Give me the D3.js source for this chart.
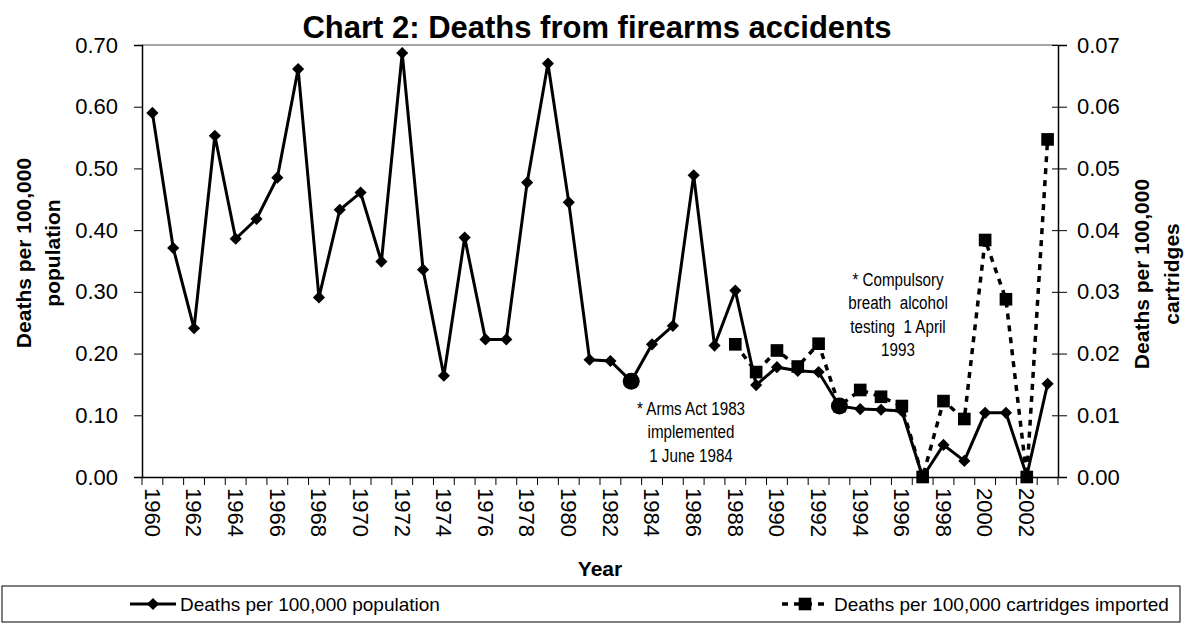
<!DOCTYPE html>
<html>
<head>
<meta charset="utf-8">
<script src="https://cdn.jsdelivr.net/npm/d3@7"></script>
<style>
  body { margin: 0; background: #fff; }
  svg { display: block; font-family: "Liberation Sans", Arial, sans-serif; }
  .note { font-family: "Liberation Sans", Arial, sans-serif; font-size: 19px; }
</style>
</head>
<body>
<svg id="chart" width="1184" height="623"></svg>
<script>
var years = [1960, 1961, 1962, 1963, 1964, 1965, 1966, 1967, 1968, 1969,
             1970, 1971, 1972, 1973, 1974, 1975, 1976, 1977, 1978, 1979,
             1980, 1981, 1982, 1983, 1984, 1985, 1986, 1987, 1988, 1989,
             1990, 1991, 1992, 1993, 1994, 1995, 1996, 1997, 1998, 1999,
             2000, 2001, 2002, 2003];

// deaths per 100,000 population (left axis)
var popDeaths = [0.590, 0.371, 0.241, 0.553, 0.386, 0.418, 0.485, 0.661, 0.291, 0.433,
                 0.461, 0.349, 0.687, 0.336, 0.164, 0.388, 0.223, 0.223, 0.477, 0.670,
                 0.445, 0.190, 0.188, 0.155, 0.215, 0.245, 0.489, 0.213, 0.302, 0.149,
                 0.178, 0.172, 0.170, 0.115, 0.110, 0.109, 0.107, 0.000, 0.052, 0.026,
                 0.104, 0.104, 0.002, 0.151];

// deaths per 100,000 cartridges imported (right axis)
var cartYears = [1988, 1989, 1990, 1991, 1992, 1993, 1994, 1995, 1996, 1997,
                 1998, 1999, 2000, 2001, 2002, 2003];
var cartDeaths = [0.0215, 0.0170, 0.0205, 0.0179, 0.0216, 0.0115, 0.0141, 0.0130, 0.0115, 0.0000,
                  0.0123, 0.0094, 0.0384, 0.0288, 0.0000, 0.0547];

var leftTicks = [0, 0.1, 0.2, 0.3, 0.4, 0.5, 0.6, 0.7];
var rightTicks = [0, 0.01, 0.02, 0.03, 0.04, 0.05, 0.06, 0.07];
var labelYears = [1960, 1962, 1964, 1966, 1968, 1970, 1972, 1974, 1976, 1978, 1980,
                  1982, 1984, 1986, 1988, 1990, 1992, 1994, 1996, 1998, 2000, 2002];

var eventYears = [1983, 1993];
var eventValues = [0.155, 0.115];
var eventNotes = [["* Arms Act 1983", "implemented", "1 June 1984"],
                  ["* Compulsory", "breath  alcohol", "testing  1 April", "1993"]];

var svg = d3.select("#chart");
var plotLeft = 142, plotRight = 1058, plotTop = 45, plotBottom = 477;

var x = d3.scaleBand().domain(years).range([plotLeft, plotRight]).padding(0);
var cx = function(yr) { return x(yr) + x.bandwidth() / 2; };
var y = d3.scaleLinear().domain([0, 0.7]).range([plotBottom, plotTop]);
var y2 = d3.scaleLinear().domain([0, 0.07]).range([plotBottom, plotTop]);

// title
svg.append("text")
    .attr("x", 597).attr("y", 38)
    .attr("text-anchor", "middle")
    .style("font-size", "31px").style("font-weight", "bold")
    .text("Chart 2: Deaths from firearms accidents");

// top border of plot area
svg.append("line")
    .attr("x1", plotLeft).attr("x2", plotRight).attr("y1", plotTop).attr("y2", plotTop)
    .attr("stroke", "#888").attr("stroke-width", 1.5);

// left axis
var gl = svg.append("g")
    .attr("transform", "translate(" + plotLeft + ",0)")
    .call(d3.axisLeft(y).tickValues(leftTicks).tickFormat(d3.format(".2f")).tickSize(8).tickPadding(16));

// right axis
var gr = svg.append("g")
    .attr("transform", "translate(" + plotRight + ",0)")
    .call(d3.axisRight(y2).tickValues(rightTicks).tickFormat(d3.format(".2f")).tickSize(9).tickPadding(10));
gr.selectAll(".tick line").attr("x1", -6);

// bottom axis
var gb = svg.append("g")
    .attr("transform", "translate(0," + plotBottom + ")")
    .call(d3.axisBottom(x).tickValues(labelYears).tickSize(0).tickPadding(0));
gb.selectAll(".tick text")
    .attr("transform", "rotate(90)")
    .attr("x", 11).attr("y", 0).attr("dy", "0.35em")
    .style("text-anchor", "start");
gb.selectAll(".tick-mark")
    .data(years.concat(["end"]))
  .enter().append("line")
    .attr("x1", function(d) { return d === "end" ? plotRight : x(d); })
    .attr("x2", function(d) { return d === "end" ? plotRight : x(d); })
    .attr("y1", 0).attr("y2", 8)
    .attr("stroke", "#000");

svg.selectAll(".domain").attr("stroke", "#000").attr("stroke-width", 1.5);
svg.selectAll(".tick line").attr("stroke", "#000");
svg.selectAll(".tick text").style("font-size", "22px").style("font-family", "'Liberation Sans', Arial, sans-serif").attr("fill", "#000");

// axis titles
function axisTitle(tx, ty, rot, s) {
  svg.append("text")
      .attr("transform", "translate(" + tx + "," + ty + ")" + (rot ? " rotate(-90)" : ""))
      .attr("text-anchor", "middle")
      .style("font-size", "21px").style("font-weight", "bold")
      .text(s);
}
axisTitle(31, 253, true, "Deaths per 100,000");
axisTitle(60, 253, true, "population");
axisTitle(1149, 274, true, "Deaths per 100,000");
axisTitle(1179, 274, true, "cartridges");
axisTitle(600, 576, false, "Year");

// population series
var popLine = d3.line()
    .x(function(d, i) { return cx(years[i]); })
    .y(function(d) { return y(d); });

svg.append("path")
    .datum(popDeaths)
    .attr("d", popLine)
    .attr("fill", "none").attr("stroke", "#000").attr("stroke-width", 3)
    .attr("stroke-linejoin", "miter");

var diamond = d3.symbol().type(d3.symbolSquare).size(74);
svg.selectAll(".diamond")
    .data(popDeaths)
  .enter().append("path")
    .attr("class", "diamond")
    .attr("d", diamond)
    .attr("transform", function(d, i) { return "translate(" + cx(years[i]) + "," + y(d) + ") rotate(45)"; })
    .attr("fill", "#000");

// cartridges series
var cartLine = d3.line()
    .x(function(d, i) { return cx(cartYears[i]); })
    .y(function(d) { return y2(d); });

svg.append("path")
    .datum(cartDeaths)
    .attr("d", cartLine)
    .attr("fill", "none").attr("stroke", "#000").attr("stroke-width", 3.5)
    .attr("stroke-dasharray", "6,6");

var square = d3.symbol().type(d3.symbolSquare).size(160);
svg.selectAll(".square")
    .data(cartDeaths)
  .enter().append("path")
    .attr("class", "square")
    .attr("d", square)
    .attr("transform", function(d, i) { return "translate(" + cx(cartYears[i]) + "," + y2(d) + ")"; })
    .attr("fill", "#000");

// event markers
svg.selectAll(".event")
    .data(eventYears)
  .enter().append("circle")
    .attr("cx", function(d) { return cx(d); })
    .attr("cy", function(d, i) { return y(eventValues[i]); })
    .attr("r", 8.5)
    .attr("fill", "#000");

// notes (narrow lettering: squeeze horizontally)
var notePos = [[691, 415], [898, 286]];
eventNotes.forEach(function(lines, k) {
  var t = svg.append("g")
      .attr("transform", "translate(" + notePos[k][0] + "," + notePos[k][1] + ") scale(0.8,1)")
    .append("text")
      .attr("class", "note")
      .attr("text-anchor", "middle")
      .attr("xml:space", "preserve");
  lines.forEach(function(s, j) {
    t.append("tspan")
        .attr("x", 0)
        .attr("y", j * 23.5)
        .text(s);
  });
});

// legend
var lg = svg.append("g");
lg.append("rect")
    .attr("x", 2).attr("y", 586).attr("width", 1178).attr("height", 36)
    .attr("fill", "#fff").attr("stroke", "#000").attr("stroke-width", 1);
lg.append("line")
    .attr("x1", 130).attr("x2", 176).attr("y1", 604).attr("y2", 604)
    .attr("stroke", "#000").attr("stroke-width", 3);
lg.append("path")
    .attr("d", diamond)
    .attr("transform", "translate(153,604) rotate(45)");
lg.append("text")
    .attr("x", 180).attr("y", 611)
    .style("font-size", "19px")
    .text("Deaths per 100,000 population");
lg.append("line")
    .attr("x1", 782).attr("x2", 828).attr("y1", 604).attr("y2", 604)
    .attr("stroke", "#000").attr("stroke-width", 3.5)
    .attr("stroke-dasharray", "6,6");
lg.append("path")
    .attr("d", square)
    .attr("transform", "translate(805,604)");
lg.append("text")
    .attr("x", 834).attr("y", 611)
    .style("font-size", "19px")
    .text("Deaths per 100,000 cartridges imported");
</script>
</body>
</html>
